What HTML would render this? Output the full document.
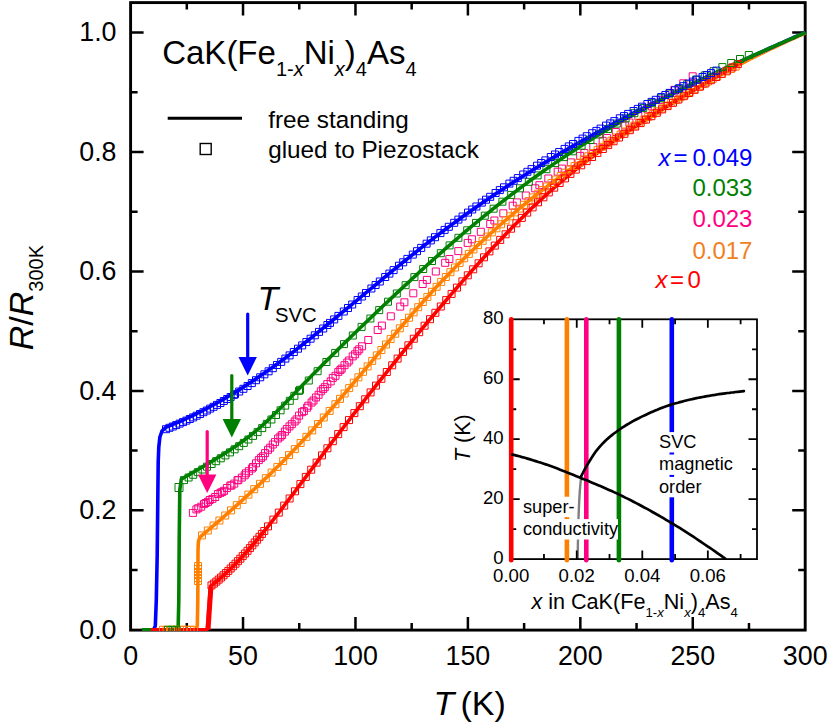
<!DOCTYPE html>
<html><head><meta charset="utf-8"><title>chart</title>
<style>html,body{margin:0;padding:0;background:#fff;}svg{display:block;}text{font-family:"Liberation Sans",sans-serif;}</style></head>
<body>
<svg width="830" height="725" viewBox="0 0 830 725" font-family="'Liberation Sans', sans-serif" shape-rendering="auto">
<rect width="830" height="725" fill="#ffffff"/>
<rect x="130.6" y="2.6" width="674.6" height="627.5" fill="none" stroke="#000" stroke-width="2.9"/>
<path d="M186.82,630.1v-7.0M186.82,2.6v7.0M243.03,630.1v-13.0M243.03,2.6v13.0M299.25,630.1v-7.0M299.25,2.6v7.0M355.47,630.1v-13.0M355.47,2.6v13.0M411.68,630.1v-7.0M411.68,2.6v7.0M467.90,630.1v-13.0M467.90,2.6v13.0M524.12,630.1v-7.0M524.12,2.6v7.0M580.33,630.1v-13.0M580.33,2.6v13.0M636.55,630.1v-7.0M636.55,2.6v7.0M692.77,630.1v-13.0M692.77,2.6v13.0M748.98,630.1v-7.0M748.98,2.6v7.0M130.6,570.07h7.0M805.2,570.07h-7.0M130.6,510.34h13.0M805.2,510.34h-13.0M130.6,450.61h7.0M805.2,450.61h-7.0M130.6,390.88h13.0M805.2,390.88h-13.0M130.6,331.15h7.0M805.2,331.15h-7.0M130.6,271.42h13.0M805.2,271.42h-13.0M130.6,211.69h7.0M805.2,211.69h-7.0M130.6,151.96h13.0M805.2,151.96h-13.0M130.6,92.23h7.0M805.2,92.23h-7.0M130.6,32.50h13.0M805.2,32.50h-13.0" stroke="#000" stroke-width="2.5" fill="none"/>
<clipPath id="pc"><rect x="129.7" y="1.7000000000000002" width="676.4" height="629.3"/></clipPath>
<g clip-path="url(#pc)">
<path d="M165.0,629.7 L196.0,629.7 L197.3,626.0 L197.8,600.0 L198.0,552.0 L198.2,545.0 L198.6,540.6 L199.6,537.9 L201.5,535.8 L201.5,535.8 L203.5,534.1 L205.5,532.4 L207.6,530.7 L209.6,529.0 L211.6,527.2 L213.6,525.5 L215.6,523.8 L217.7,522.0 L219.7,520.3 L221.7,518.5 L223.7,516.8 L225.7,515.0 L227.8,513.2 L229.8,511.4 L231.8,509.7 L233.8,507.9 L235.8,506.1 L237.9,504.2 L239.9,502.4 L241.9,500.6 L243.9,498.7 L245.9,496.9 L248.0,495.0 L250.0,493.2 L252.0,491.3 L254.0,489.4 L256.0,487.5 L258.1,485.6 L260.1,483.7 L262.1,481.8 L264.1,479.8 L266.1,477.9 L268.2,475.9 L270.2,474.0 L272.2,472.0 L274.2,470.0 L276.2,468.0 L278.3,466.0 L280.3,464.0 L282.3,462.0 L284.3,459.9 L286.3,457.9 L288.4,455.8 L290.4,453.7 L292.4,451.6 L294.4,449.5 L296.4,447.4 L298.5,445.3 L300.5,443.1 L302.5,441.0 L304.5,438.8 L306.5,436.6 L308.6,434.4 L310.6,432.2 L312.6,430.0 L314.6,427.8 L316.6,425.5 L318.7,423.3 L320.7,421.0 L322.7,418.7 L324.7,416.4 L326.7,414.1 L328.8,411.8 L330.8,409.5 L332.8,407.2 L334.8,404.9 L336.8,402.5 L338.9,400.2 L340.9,397.8 L342.9,395.5 L344.9,393.1 L346.9,390.8 L349.0,388.4 L351.0,386.0 L353.0,383.6 L355.0,381.2 L357.0,378.9 L359.1,376.5 L361.1,374.1 L363.1,371.7 L365.1,369.3 L367.1,366.9 L369.2,364.5 L371.2,362.1 L373.2,359.7 L375.2,357.3 L377.2,354.9 L379.3,352.5 L381.3,350.1 L383.3,347.7 L385.3,345.3 L387.3,343.0 L389.4,340.6 L391.4,338.2 L393.4,335.8 L395.4,333.5 L397.4,331.1 L399.5,328.7 L401.5,326.4 L403.5,324.0 L405.5,321.7 L407.5,319.4 L409.6,317.0 L411.6,314.7 L413.6,312.4 L415.6,310.1 L417.6,307.8 L419.7,305.5 L421.7,303.3 L423.7,301.0 L425.7,298.7 L427.7,296.5 L429.8,294.3 L431.8,292.0 L433.8,289.8 L435.8,287.6 L437.8,285.5 L439.9,283.3 L441.9,281.1 L443.9,279.0 L445.9,276.9 L447.9,274.8 L450.0,272.7 L452.0,270.6 L454.0,268.5 L456.0,266.5 L458.0,264.5 L460.1,262.4 L462.1,260.4 L464.1,258.4 L466.1,256.5 L468.1,254.5 L470.2,252.5 L472.2,250.6 L474.2,248.7 L476.2,246.8 L478.2,244.9 L480.3,243.0 L482.3,241.1 L484.3,239.2 L486.3,237.4 L488.3,235.5 L490.4,233.7 L492.4,231.9 L494.4,230.1 L496.4,228.3 L498.4,226.5 L500.5,224.7 L502.5,223.0 L504.5,221.2 L506.5,219.5 L508.6,217.7 L510.6,216.0 L512.6,214.3 L514.6,212.6 L516.6,210.9 L518.7,209.2 L520.7,207.5 L522.7,205.9 L524.7,204.2 L526.7,202.6 L528.8,200.9 L530.8,199.3 L532.8,197.7 L534.8,196.1 L536.8,194.5 L538.9,192.9 L540.9,191.3 L542.9,189.7 L544.9,188.1 L546.9,186.6 L549.0,185.0 L551.0,183.5 L553.0,181.9 L555.0,180.4 L557.0,178.9 L559.1,177.4 L561.1,175.9 L563.1,174.4 L565.1,172.9 L567.1,171.4 L569.2,169.9 L571.2,168.5 L573.2,167.0 L575.2,165.5 L577.2,164.1 L579.3,162.6 L581.3,161.2 L583.3,159.8 L585.3,158.4 L587.3,157.0 L589.4,155.5 L591.4,154.1 L593.4,152.7 L595.4,151.4 L597.4,150.0 L599.5,148.6 L601.5,147.2 L603.5,145.9 L605.5,144.5 L607.5,143.1 L609.6,141.8 L611.6,140.4 L613.6,139.1 L615.6,137.8 L617.6,136.4 L619.7,135.1 L621.7,133.8 L623.7,132.5 L625.7,131.2 L627.7,129.9 L629.8,128.6 L631.8,127.3 L633.8,126.0 L635.8,124.7 L637.8,123.4 L639.9,122.1 L641.9,120.8 L643.9,119.6 L645.9,118.3 L647.9,117.0 L650.0,115.8 L652.0,114.5 L654.0,113.3 L656.0,112.0 L658.0,110.8 L660.1,109.5 L662.1,108.3 L664.1,107.1 L666.1,105.9 L668.1,104.6 L670.2,103.4 L672.2,102.2 L674.2,101.0 L676.2,99.8 L678.2,98.6 L680.3,97.4 L682.3,96.2 L684.3,95.1 L686.3,93.9 L688.3,92.7 L690.4,91.5 L692.4,90.4 L694.4,89.2 L696.4,88.1 L698.4,86.9 L700.5,85.8 L702.5,84.6 L704.5,83.5 L706.5,82.4 L708.5,81.2 L710.6,80.1 L712.6,79.0 L714.6,77.9 L716.6,76.8 L718.6,75.7 L720.7,74.6 L722.7,73.5 L724.7,72.4 L726.7,71.3 L728.7,70.2 L730.8,69.2 L732.8,68.1 L734.8,67.0 L736.8,66.0 L738.8,64.9 L740.9,63.9 L742.9,62.8 L744.9,61.8 L746.9,60.8 L748.9,59.7 L751.0,58.7 L753.0,57.7 L755.0,56.7 L757.0,55.7 L759.0,54.7 L761.1,53.7 L763.1,52.7 L765.1,51.7 L767.1,50.7 L769.1,49.7 L771.2,48.7 L773.2,47.8 L775.2,46.8 L777.2,45.9 L779.2,44.9 L781.3,44.0 L783.3,43.0 L785.3,42.1 L787.3,41.1 L789.3,40.2 L791.4,39.3 L793.4,38.4 L795.4,37.5 L797.4,36.6 L799.4,35.7 L801.5,34.8 L803.5,33.9 L805.5,33.0" fill="none" stroke="#ff8000" stroke-width="3.6" stroke-linejoin="round" stroke-linecap="butt"/>
<path d="M142.0,629.7 L153.5,629.7 L155.3,626.0 L156.3,600.0 L157.2,555.0 L158.2,462.0 L158.8,447.0 L159.9,437.0 L162.0,431.0 L165.9,427.2 L165.9,427.2 L168.0,426.4 L170.2,425.5 L172.3,424.7 L174.5,423.8 L176.6,422.9 L178.7,422.0 L180.9,421.1 L183.0,420.1 L185.2,419.1 L187.3,418.2 L189.4,417.2 L191.6,416.1 L193.7,415.1 L195.8,414.1 L198.0,413.0 L200.1,411.9 L202.3,410.8 L204.4,409.7 L206.5,408.6 L208.7,407.5 L210.8,406.3 L213.0,405.1 L215.1,404.0 L217.2,402.8 L219.4,401.6 L221.5,400.3 L223.7,399.1 L225.8,397.8 L227.9,396.6 L230.1,395.3 L232.2,394.0 L234.4,392.7 L236.5,391.4 L238.6,390.1 L240.8,388.7 L242.9,387.4 L245.0,386.0 L247.2,384.6 L249.3,383.2 L251.5,381.8 L253.6,380.4 L255.7,379.0 L257.9,377.5 L260.0,376.1 L262.2,374.6 L264.3,373.1 L266.4,371.6 L268.6,370.1 L270.7,368.6 L272.9,367.1 L275.0,365.5 L277.1,364.0 L279.3,362.4 L281.4,360.8 L283.6,359.2 L285.7,357.6 L287.8,356.0 L290.0,354.4 L292.1,352.7 L294.2,351.1 L296.4,349.4 L298.5,347.7 L300.7,346.1 L302.8,344.4 L304.9,342.7 L307.1,341.0 L309.2,339.3 L311.4,337.6 L313.5,335.9 L315.6,334.2 L317.8,332.4 L319.9,330.7 L322.1,329.0 L324.2,327.2 L326.3,325.5 L328.5,323.7 L330.6,322.0 L332.8,320.2 L334.9,318.5 L337.0,316.7 L339.2,314.9 L341.3,313.2 L343.4,311.4 L345.6,309.6 L347.7,307.9 L349.9,306.1 L352.0,304.3 L354.1,302.5 L356.3,300.8 L358.4,299.0 L360.6,297.2 L362.7,295.4 L364.8,293.7 L367.0,291.9 L369.1,290.1 L371.3,288.3 L373.4,286.6 L375.5,284.8 L377.7,283.0 L379.8,281.3 L382.0,279.5 L384.1,277.7 L386.2,276.0 L388.4,274.2 L390.5,272.5 L392.6,270.7 L394.8,269.0 L396.9,267.2 L399.1,265.5 L401.2,263.7 L403.3,262.0 L405.5,260.3 L407.6,258.6 L409.8,256.9 L411.9,255.2 L414.0,253.5 L416.2,251.8 L418.3,250.1 L420.5,248.4 L422.6,246.7 L424.7,245.0 L426.9,243.4 L429.0,241.7 L431.2,240.1 L433.3,238.5 L435.4,236.8 L437.6,235.2 L439.7,233.6 L441.8,232.0 L444.0,230.4 L446.1,228.8 L448.3,227.2 L450.4,225.6 L452.5,224.1 L454.7,222.5 L456.8,220.9 L459.0,219.4 L461.1,217.8 L463.2,216.3 L465.4,214.8 L467.5,213.3 L469.7,211.8 L471.8,210.2 L473.9,208.7 L476.1,207.2 L478.2,205.8 L480.4,204.3 L482.5,202.8 L484.6,201.3 L486.8,199.9 L488.9,198.4 L491.0,197.0 L493.2,195.5 L495.3,194.1 L497.5,192.7 L499.6,191.3 L501.7,189.8 L503.9,188.4 L506.0,187.0 L508.2,185.6 L510.3,184.2 L512.4,182.9 L514.6,181.5 L516.7,180.1 L518.9,178.7 L521.0,177.4 L523.1,176.0 L525.3,174.7 L527.4,173.3 L529.6,172.0 L531.7,170.7 L533.8,169.3 L536.0,168.0 L538.1,166.7 L540.2,165.4 L542.4,164.1 L544.5,162.8 L546.7,161.5 L548.8,160.2 L550.9,158.9 L553.1,157.7 L555.2,156.4 L557.4,155.1 L559.5,153.9 L561.6,152.6 L563.8,151.4 L565.9,150.1 L568.1,148.9 L570.2,147.6 L572.3,146.4 L574.5,145.2 L576.6,144.0 L578.8,142.7 L580.9,141.5 L583.0,140.3 L585.2,139.1 L587.3,137.9 L589.4,136.7 L591.6,135.5 L593.7,134.4 L595.9,133.2 L598.0,132.0 L600.1,130.8 L602.3,129.7 L604.4,128.5 L606.6,127.3 L608.7,126.2 L610.8,125.0 L613.0,123.9 L615.1,122.7 L617.3,121.6 L619.4,120.5 L621.5,119.3 L623.7,118.2 L625.8,117.1 L628.0,116.0 L630.1,114.9 L632.2,113.8 L634.4,112.7 L636.5,111.5 L638.6,110.4 L640.8,109.4 L642.9,108.3 L645.1,107.2 L647.2,106.1 L649.3,105.0 L651.5,103.9 L653.6,102.8 L655.8,101.8 L657.9,100.7 L660.0,99.6 L662.2,98.6 L664.3,97.5 L666.5,96.5 L668.6,95.4 L670.7,94.4 L672.9,93.3 L675.0,92.3 L677.2,91.2 L679.3,90.2 L681.4,89.1 L683.6,88.1 L685.7,87.1 L687.8,86.0 L690.0,85.0 L692.1,84.0 L694.3,83.0 L696.4,82.0 L698.5,80.9 L700.7,79.9 L702.8,78.9 L705.0,77.9 L707.1,76.9 L709.2,75.9 L711.4,74.9 L713.5,73.9 L715.7,72.9 L717.8,71.9 L719.9,70.9 L722.1,69.9 L724.2,68.9 L726.4,67.9 L728.5,66.9 L730.6,66.0 L732.8,65.0 L734.9,64.0 L737.0,63.0 L739.2,62.0 L741.3,61.1 L743.5,60.1 L745.6,59.1 L747.7,58.1 L749.9,57.2 L752.0,56.2 L754.2,55.2 L756.3,54.3 L758.4,53.3 L760.6,52.3 L762.7,51.4 L764.9,50.4 L767.0,49.5 L769.1,48.5 L771.3,47.5 L773.4,46.6 L775.6,45.6 L777.7,44.7 L779.8,43.7 L782.0,42.8 L784.1,41.8 L786.2,40.9 L788.4,39.9 L790.5,38.9 L792.7,38.0 L794.8,37.0 L796.9,36.1 L799.1,35.1 L801.2,34.2 L803.4,33.2 L805.5,32.3" fill="none" stroke="#0000ff" stroke-width="3.6" stroke-linejoin="round" stroke-linecap="butt"/>
<path d="M142.0,629.7 L176.0,629.7 L178.2,626.0 L178.8,600.0 L179.2,540.0 L179.8,490.0 L181.3,479.2 L181.3,479.2 L183.4,478.0 L185.5,476.8 L187.6,475.6 L189.7,474.4 L191.7,473.2 L193.8,472.0 L195.9,470.8 L198.0,469.5 L200.1,468.3 L202.2,467.1 L204.3,465.9 L206.4,464.6 L208.4,463.4 L210.5,462.1 L212.6,460.9 L214.7,459.6 L216.8,458.3 L218.9,457.0 L221.0,455.7 L223.1,454.4 L225.1,453.1 L227.2,451.7 L229.3,450.4 L231.4,449.0 L233.5,447.6 L235.6,446.2 L237.7,444.7 L239.8,443.3 L241.8,441.8 L243.9,440.3 L246.0,438.8 L248.1,437.2 L250.2,435.6 L252.3,433.9 L254.4,432.3 L256.5,430.5 L258.5,428.8 L260.6,427.0 L262.7,425.1 L264.8,423.2 L266.9,421.3 L269.0,419.3 L271.1,417.3 L273.2,415.3 L275.2,413.2 L277.3,411.1 L279.4,409.0 L281.5,406.9 L283.6,404.7 L285.7,402.6 L287.8,400.4 L289.9,398.2 L291.9,396.1 L294.0,393.9 L296.1,391.7 L298.2,389.6 L300.3,387.4 L302.4,385.3 L304.5,383.1 L306.6,381.0 L308.6,378.9 L310.7,376.7 L312.8,374.6 L314.9,372.5 L317.0,370.4 L319.1,368.3 L321.2,366.2 L323.3,364.1 L325.3,362.0 L327.4,359.9 L329.5,357.9 L331.6,355.8 L333.7,353.7 L335.8,351.7 L337.9,349.6 L340.0,347.5 L342.0,345.5 L344.1,343.4 L346.2,341.4 L348.3,339.4 L350.4,337.3 L352.5,335.3 L354.6,333.3 L356.7,331.3 L358.7,329.2 L360.8,327.2 L362.9,325.2 L365.0,323.2 L367.1,321.2 L369.2,319.2 L371.3,317.2 L373.4,315.2 L375.4,313.2 L377.5,311.2 L379.6,309.3 L381.7,307.3 L383.8,305.3 L385.9,303.3 L388.0,301.4 L390.1,299.4 L392.2,297.4 L394.2,295.5 L396.3,293.5 L398.4,291.6 L400.5,289.6 L402.6,287.7 L404.7,285.7 L406.8,283.8 L408.9,281.9 L410.9,279.9 L413.0,278.0 L415.1,276.1 L417.2,274.2 L419.3,272.2 L421.4,270.3 L423.5,268.4 L425.6,266.5 L427.6,264.7 L429.7,262.8 L431.8,260.9 L433.9,259.0 L436.0,257.2 L438.1,255.3 L440.2,253.4 L442.3,251.6 L444.3,249.7 L446.4,247.9 L448.5,246.1 L450.6,244.3 L452.7,242.4 L454.8,240.6 L456.9,238.8 L459.0,237.0 L461.0,235.3 L463.1,233.5 L465.2,231.7 L467.3,230.0 L469.4,228.2 L471.5,226.5 L473.6,224.7 L475.7,223.0 L477.7,221.3 L479.8,219.6 L481.9,217.9 L484.0,216.2 L486.1,214.5 L488.2,212.8 L490.3,211.1 L492.4,209.4 L494.4,207.8 L496.5,206.1 L498.6,204.5 L500.7,202.9 L502.8,201.2 L504.9,199.6 L507.0,198.0 L509.1,196.4 L511.1,194.8 L513.2,193.2 L515.3,191.7 L517.4,190.1 L519.5,188.5 L521.6,187.0 L523.7,185.4 L525.8,183.9 L527.8,182.3 L529.9,180.8 L532.0,179.3 L534.1,177.8 L536.2,176.3 L538.3,174.8 L540.4,173.3 L542.5,171.8 L544.5,170.4 L546.6,168.9 L548.7,167.4 L550.8,166.0 L552.9,164.6 L555.0,163.1 L557.1,161.7 L559.2,160.3 L561.2,158.9 L563.3,157.5 L565.4,156.1 L567.5,154.7 L569.6,153.3 L571.7,151.9 L573.8,150.6 L575.9,149.2 L577.9,147.9 L580.0,146.5 L582.1,145.2 L584.2,143.9 L586.3,142.5 L588.4,141.2 L590.5,139.9 L592.6,138.6 L594.6,137.3 L596.7,136.0 L598.8,134.8 L600.9,133.5 L603.0,132.2 L605.1,131.0 L607.2,129.7 L609.3,128.5 L611.4,127.2 L613.4,126.0 L615.5,124.8 L617.6,123.6 L619.7,122.4 L621.8,121.2 L623.9,120.0 L626.0,118.8 L628.1,117.6 L630.1,116.4 L632.2,115.3 L634.3,114.1 L636.4,112.9 L638.5,111.8 L640.6,110.7 L642.7,109.5 L644.8,108.4 L646.8,107.3 L648.9,106.1 L651.0,105.0 L653.1,103.9 L655.2,102.8 L657.3,101.7 L659.4,100.6 L661.5,99.5 L663.5,98.4 L665.6,97.3 L667.7,96.3 L669.8,95.2 L671.9,94.1 L674.0,93.1 L676.1,92.0 L678.2,91.0 L680.2,89.9 L682.3,88.9 L684.4,87.8 L686.5,86.8 L688.6,85.8 L690.7,84.7 L692.8,83.7 L694.9,82.7 L696.9,81.7 L699.0,80.7 L701.1,79.7 L703.2,78.7 L705.3,77.7 L707.4,76.7 L709.5,75.7 L711.6,74.7 L713.6,73.7 L715.7,72.7 L717.8,71.7 L719.9,70.8 L722.0,69.8 L724.1,68.8 L726.2,67.9 L728.3,66.9 L730.3,65.9 L732.4,65.0 L734.5,64.0 L736.6,63.1 L738.7,62.1 L740.8,61.2 L742.9,60.2 L745.0,59.3 L747.0,58.3 L749.1,57.4 L751.2,56.5 L753.3,55.5 L755.4,54.6 L757.5,53.6 L759.6,52.7 L761.7,51.8 L763.7,50.9 L765.8,49.9 L767.9,49.0 L770.0,48.1 L772.1,47.2 L774.2,46.2 L776.3,45.3 L778.4,44.4 L780.4,43.5 L782.5,42.6 L784.6,41.6 L786.7,40.7 L788.8,39.8 L790.9,38.9 L793.0,38.0 L795.1,37.1 L797.1,36.2 L799.2,35.2 L801.3,34.3 L803.4,33.4 L805.5,32.5" fill="none" stroke="#008000" stroke-width="3.6" stroke-linejoin="round" stroke-linecap="butt"/>
<path d="M151.0,629.7 L206.5,629.7 L207.4,628.4 L210.5,586.2 L210.5,586.2 L212.3,584.8 L214.0,583.4 L215.8,582.0 L217.6,580.5 L219.4,579.0 L221.1,577.5 L222.9,575.9 L224.7,574.3 L226.5,572.6 L228.2,570.9 L230.0,569.2 L231.8,567.5 L233.6,565.7 L235.3,563.9 L237.1,562.1 L238.9,560.2 L240.7,558.3 L242.4,556.4 L244.2,554.5 L246.0,552.5 L247.8,550.5 L249.5,548.5 L251.3,546.5 L253.1,544.4 L254.9,542.3 L256.6,540.2 L258.4,538.1 L260.2,536.0 L262.0,533.8 L263.7,531.7 L265.5,529.5 L267.3,527.3 L269.1,525.1 L270.8,522.8 L272.6,520.6 L274.4,518.3 L276.1,516.0 L277.9,513.8 L279.7,511.5 L281.5,509.2 L283.2,506.8 L285.0,504.5 L286.8,502.2 L288.6,499.9 L290.3,497.5 L292.1,495.2 L293.9,492.8 L295.7,490.5 L297.4,488.1 L299.2,485.7 L301.0,483.4 L302.8,481.0 L304.5,478.6 L306.3,476.3 L308.1,473.9 L309.9,471.5 L311.6,469.2 L313.4,466.8 L315.2,464.5 L317.0,462.1 L318.7,459.7 L320.5,457.4 L322.3,455.1 L324.1,452.7 L325.8,450.4 L327.6,448.0 L329.4,445.7 L331.1,443.4 L332.9,441.0 L334.7,438.7 L336.5,436.4 L338.2,434.1 L340.0,431.8 L341.8,429.5 L343.6,427.2 L345.3,424.8 L347.1,422.5 L348.9,420.3 L350.7,418.0 L352.4,415.7 L354.2,413.4 L356.0,411.1 L357.8,408.8 L359.5,406.5 L361.3,404.3 L363.1,402.0 L364.9,399.7 L366.6,397.5 L368.4,395.2 L370.2,392.9 L372.0,390.7 L373.7,388.4 L375.5,386.2 L377.3,384.0 L379.1,381.7 L380.8,379.5 L382.6,377.3 L384.4,375.0 L386.2,372.8 L387.9,370.6 L389.7,368.4 L391.5,366.2 L393.2,364.0 L395.0,361.8 L396.8,359.6 L398.6,357.4 L400.3,355.2 L402.1,353.0 L403.9,350.8 L405.7,348.6 L407.4,346.5 L409.2,344.3 L411.0,342.1 L412.8,340.0 L414.5,337.8 L416.3,335.7 L418.1,333.5 L419.9,331.4 L421.6,329.2 L423.4,327.1 L425.2,325.0 L427.0,322.9 L428.7,320.7 L430.5,318.6 L432.3,316.5 L434.1,314.4 L435.8,312.3 L437.6,310.2 L439.4,308.1 L441.2,306.0 L442.9,304.0 L444.7,301.9 L446.5,299.8 L448.2,297.7 L450.0,295.7 L451.8,293.6 L453.6,291.6 L455.3,289.5 L457.1,287.5 L458.9,285.4 L460.7,283.4 L462.4,281.4 L464.2,279.4 L466.0,277.4 L467.8,275.4 L469.5,273.4 L471.3,271.4 L473.1,269.4 L474.9,267.4 L476.6,265.4 L478.4,263.5 L480.2,261.5 L482.0,259.5 L483.7,257.6 L485.5,255.7 L487.3,253.7 L489.1,251.8 L490.8,249.9 L492.6,248.0 L494.4,246.1 L496.2,244.2 L497.9,242.3 L499.7,240.5 L501.5,238.6 L503.3,236.7 L505.0,234.9 L506.8,233.0 L508.6,231.2 L510.3,229.4 L512.1,227.6 L513.9,225.8 L515.7,224.0 L517.4,222.2 L519.2,220.4 L521.0,218.7 L522.8,216.9 L524.5,215.2 L526.3,213.4 L528.1,211.7 L529.9,210.0 L531.6,208.3 L533.4,206.6 L535.2,204.9 L537.0,203.3 L538.7,201.6 L540.5,200.0 L542.3,198.3 L544.1,196.7 L545.8,195.1 L547.6,193.5 L549.4,191.9 L551.2,190.3 L552.9,188.8 L554.7,187.2 L556.5,185.7 L558.3,184.1 L560.0,182.6 L561.8,181.1 L563.6,179.6 L565.3,178.1 L567.1,176.6 L568.9,175.2 L570.7,173.7 L572.4,172.3 L574.2,170.8 L576.0,169.4 L577.8,168.0 L579.5,166.6 L581.3,165.2 L583.1,163.8 L584.9,162.4 L586.6,161.1 L588.4,159.7 L590.2,158.3 L592.0,157.0 L593.7,155.7 L595.5,154.3 L597.3,153.0 L599.1,151.7 L600.8,150.4 L602.6,149.1 L604.4,147.8 L606.2,146.6 L607.9,145.3 L609.7,144.0 L611.5,142.8 L613.3,141.5 L615.0,140.3 L616.8,139.0 L618.6,137.8 L620.4,136.6 L622.1,135.4 L623.9,134.2 L625.7,133.0 L627.4,131.8 L629.2,130.6 L631.0,129.4 L632.8,128.2 L634.5,127.0 L636.3,125.9 L638.1,124.7 L639.9,123.6 L641.6,122.4 L643.4,121.3 L645.2,120.1 L647.0,119.0 L648.7,117.9 L650.5,116.7 L652.3,115.6 L654.1,114.5 L655.8,113.4 L657.6,112.3 L659.4,111.2 L661.2,110.0 L662.9,108.9 L664.7,107.9 L666.5,106.8 L668.3,105.7 L670.0,104.6 L671.8,103.5 L673.6,102.4 L675.4,101.3 L677.1,100.3 L678.9,99.2 L680.7,98.1 L682.4,97.1 L684.2,96.0 L686.0,94.9 L687.8,93.9 L689.5,92.8 L691.3,91.7 L693.1,90.7 L694.9,89.6 L696.6,88.6 L698.4,87.5 L700.2,86.5 L702.0,85.4 L703.7,84.4 L705.5,83.3 L707.3,82.3 L709.1,81.2 L710.8,80.2 L712.6,79.1 L714.4,78.1 L716.2,77.0 L717.9,76.0 L719.7,74.9 L721.5,73.9 L723.3,72.8 L725.0,71.7 L726.8,70.7 L728.6,69.6 L730.4,68.6 L732.1,67.5 L733.9,66.5 L735.7,65.4 L737.5,64.3 L739.2,63.3 L741.0,62.2" fill="none" stroke="#ff0000" stroke-width="3.6" stroke-linejoin="round" stroke-linecap="butt"/>
<path d="M208.0,629.8 L210.9,587" fill="none" stroke="#ff0000" stroke-width="5.0" stroke-linecap="butt"/>
<path d="M189.4,509.4h7.0v7.0h-7.0zM192.9,505.9h7.0v7.0h-7.0zM194.8,504.7h7.0v7.0h-7.0zM197.7,503.2h7.0v7.0h-7.0zM200.5,500.6h7.0v7.0h-7.0zM202.2,499.5h7.0v7.0h-7.0zM204.5,498.3h7.0v7.0h-7.0zM206.2,496.5h7.0v7.0h-7.0zM208.9,495.4h7.0v7.0h-7.0zM211.7,493.5h7.0v7.0h-7.0zM214.4,490.5h7.0v7.0h-7.0zM217.0,489.3h7.0v7.0h-7.0zM218.7,488.4h7.0v7.0h-7.0zM220.6,487.3h7.0v7.0h-7.0zM223.4,484.5h7.0v7.0h-7.0zM226.8,482.0h7.0v7.0h-7.0zM228.0,482.0h7.0v7.0h-7.0zM230.8,480.1h7.0v7.0h-7.0zM234.0,476.8h7.0v7.0h-7.0zM234.9,476.4h7.0v7.0h-7.0zM238.3,474.1h7.0v7.0h-7.0zM241.2,471.8h7.0v7.0h-7.0zM242.5,469.8h7.0v7.0h-7.0zM245.4,467.7h7.0v7.0h-7.0zM248.4,465.0h7.0v7.0h-7.0zM249.5,463.5h7.0v7.0h-7.0zM252.5,459.8h7.0v7.0h-7.0zM255.3,456.6h7.0v7.0h-7.0zM257.6,454.4h7.0v7.0h-7.0zM259.6,452.8h7.0v7.0h-7.0zM261.6,449.6h7.0v7.0h-7.0zM264.5,446.3h7.0v7.0h-7.0zM266.7,444.2h7.0v7.0h-7.0zM269.3,441.0h7.0v7.0h-7.0zM271.5,438.6h7.0v7.0h-7.0zM274.6,435.0h7.0v7.0h-7.0zM276.9,433.1h7.0v7.0h-7.0zM278.6,431.5h7.0v7.0h-7.0zM281.4,428.1h7.0v7.0h-7.0zM283.3,425.6h7.0v7.0h-7.0zM286.0,422.9h7.0v7.0h-7.0zM288.3,420.7h7.0v7.0h-7.0zM291.2,418.0h7.0v7.0h-7.0zM293.1,415.9h7.0v7.0h-7.0zM295.6,412.1h7.0v7.0h-7.0zM298.5,408.7h7.0v7.0h-7.0zM300.4,407.6h7.0v7.0h-7.0zM303.6,404.2h7.0v7.0h-7.0zM304.8,402.2h7.0v7.0h-7.0zM308.1,399.0h7.0v7.0h-7.0zM310.0,397.0h7.0v7.0h-7.0zM312.4,394.0h7.0v7.0h-7.0zM315.1,391.3h7.0v7.0h-7.0zM317.3,387.8h7.0v7.0h-7.0zM319.6,385.6h7.0v7.0h-7.0zM321.3,383.7h7.0v7.0h-7.0zM323.8,380.6h7.0v7.0h-7.0zM327.2,377.9h7.0v7.0h-7.0zM329.3,374.4h7.0v7.0h-7.0zM332.0,372.3h7.0v7.0h-7.0zM334.8,368.4h7.0v7.0h-7.0zM336.8,366.6h7.0v7.0h-7.0zM338.2,365.1h7.0v7.0h-7.0zM341.0,361.7h7.0v7.0h-7.0zM343.8,359.0h7.0v7.0h-7.0zM345.7,357.0h7.0v7.0h-7.0zM349.2,352.9h7.0v7.0h-7.0zM351.6,350.8h7.0v7.0h-7.0zM353.9,347.7h7.0v7.0h-7.0zM355.7,345.8h7.0v7.0h-7.0zM358.6,342.8h7.0v7.0h-7.0zM364.8,336.5h7.0v7.0h-7.0zM374.2,326.5h7.0v7.0h-7.0zM378.4,322.1h7.0v7.0h-7.0zM387.3,312.8h7.0v7.0h-7.0zM396.7,303.1h7.0v7.0h-7.0zM400.9,298.8h7.0v7.0h-7.0zM409.8,289.8h7.0v7.0h-7.0zM419.2,280.5h7.0v7.0h-7.0zM423.4,276.4h7.0v7.0h-7.0zM432.3,268.0h7.0v7.0h-7.0zM441.7,259.3h7.0v7.0h-7.0zM445.9,255.5h7.0v7.0h-7.0zM454.8,247.6h7.0v7.0h-7.0zM464.2,239.4h7.0v7.0h-7.0zM468.4,235.8h7.0v7.0h-7.0zM477.3,228.3h7.0v7.0h-7.0zM486.7,220.5h7.0v7.0h-7.0zM490.9,217.0h7.0v7.0h-7.0zM499.8,209.8h7.0v7.0h-7.0zM509.2,202.2h7.0v7.0h-7.0zM513.4,198.9h7.0v7.0h-7.0zM522.3,192.0h7.0v7.0h-7.0zM531.7,184.8h7.0v7.0h-7.0zM535.9,181.7h7.0v7.0h-7.0zM544.8,175.0h7.0v7.0h-7.0zM554.2,168.2h7.0v7.0h-7.0zM558.4,165.1h7.0v7.0h-7.0zM567.3,158.9h7.0v7.0h-7.0zM576.7,152.4h7.0v7.0h-7.0zM580.9,149.6h7.0v7.0h-7.0zM589.8,143.6h7.0v7.0h-7.0zM599.2,137.3h7.0v7.0h-7.0zM603.4,134.5h7.0v7.0h-7.0zM612.3,128.5h7.0v7.0h-7.0zM621.7,121.9h7.0v7.0h-7.0zM625.9,119.0h7.0v7.0h-7.0zM634.8,112.6h7.0v7.0h-7.0zM644.2,105.9h7.0v7.0h-7.0zM648.4,102.9h7.0v7.0h-7.0zM657.3,96.4h7.0v7.0h-7.0zM666.7,89.5h7.0v7.0h-7.0zM670.9,86.4h7.0v7.0h-7.0zM679.8,79.8h7.0v7.0h-7.0zM689.2,72.8h7.0v7.0h-7.0z" fill="none" stroke="#ff0080" stroke-width="1" stroke-opacity="1.0"/>
<path d="M198.5,531.9h7.0v7.0h-7.0zM204.3,527.0h7.0v7.0h-7.0zM210.1,522.0h7.0v7.0h-7.0zM215.9,517.0h7.0v7.0h-7.0zM221.7,512.0h7.0v7.0h-7.0zM227.5,506.9h7.0v7.0h-7.0zM233.3,501.7h7.0v7.0h-7.0zM239.1,496.4h7.0v7.0h-7.0zM244.9,491.1h7.0v7.0h-7.0zM250.7,485.7h7.0v7.0h-7.0zM256.5,480.3h7.0v7.0h-7.0zM262.3,474.7h7.0v7.0h-7.0zM268.1,469.1h7.0v7.0h-7.0zM273.9,463.4h7.0v7.0h-7.0zM279.7,457.6h7.0v7.0h-7.0zM285.5,451.6h7.0v7.0h-7.0zM291.3,445.6h7.0v7.0h-7.0zM297.1,439.5h7.0v7.0h-7.0zM302.9,433.3h7.0v7.0h-7.0zM308.7,426.9h7.0v7.0h-7.0zM314.5,420.5h7.0v7.0h-7.0zM320.3,414.0h7.0v7.0h-7.0zM326.1,407.4h7.0v7.0h-7.0zM331.9,400.7h7.0v7.0h-7.0zM336.5,395.4h7.0v7.0h-7.0zM341.1,390.0h7.0v7.0h-7.0zM345.7,384.6h7.0v7.0h-7.0zM350.3,379.2h7.0v7.0h-7.0zM354.9,373.8h7.0v7.0h-7.0zM359.5,368.3h7.0v7.0h-7.0zM364.1,362.9h7.0v7.0h-7.0zM368.7,357.4h7.0v7.0h-7.0zM373.3,351.9h7.0v7.0h-7.0zM377.9,346.5h7.0v7.0h-7.0zM382.5,341.0h7.0v7.0h-7.0zM387.1,335.6h7.0v7.0h-7.0zM391.7,330.2h7.0v7.0h-7.0zM396.3,324.8h7.0v7.0h-7.0zM400.9,319.5h7.0v7.0h-7.0zM405.5,314.2h7.0v7.0h-7.0zM410.1,308.9h7.0v7.0h-7.0zM414.7,303.7h7.0v7.0h-7.0zM419.3,298.5h7.0v7.0h-7.0zM423.9,293.4h7.0v7.0h-7.0zM428.5,288.3h7.0v7.0h-7.0zM433.1,283.3h7.0v7.0h-7.0zM437.7,278.4h7.0v7.0h-7.0zM442.3,273.5h7.0v7.0h-7.0zM446.9,268.7h7.0v7.0h-7.0zM451.5,264.0h7.0v7.0h-7.0zM456.1,259.4h7.0v7.0h-7.0zM460.7,254.8h7.0v7.0h-7.0zM465.3,250.4h7.0v7.0h-7.0zM469.9,245.9h7.0v7.0h-7.0zM474.5,241.6h7.0v7.0h-7.0zM479.1,237.3h7.0v7.0h-7.0zM483.7,233.1h7.0v7.0h-7.0zM488.3,228.9h7.0v7.0h-7.0zM492.9,224.8h7.0v7.0h-7.0zM497.5,220.8h7.0v7.0h-7.0zM502.1,216.8h7.0v7.0h-7.0zM506.7,212.8h7.0v7.0h-7.0zM511.3,208.9h7.0v7.0h-7.0zM515.9,205.1h7.0v7.0h-7.0zM520.5,201.3h7.0v7.0h-7.0zM525.1,197.6h7.0v7.0h-7.0zM529.7,193.9h7.0v7.0h-7.0zM534.3,190.2h7.0v7.0h-7.0zM538.9,186.6h7.0v7.0h-7.0zM543.5,183.0h7.0v7.0h-7.0zM548.1,179.5h7.0v7.0h-7.0zM552.7,176.0h7.0v7.0h-7.0zM557.3,172.6h7.0v7.0h-7.0zM561.9,169.2h7.0v7.0h-7.0zM566.5,165.8h7.0v7.0h-7.0zM571.1,162.5h7.0v7.0h-7.0zM575.7,159.2h7.0v7.0h-7.0zM580.3,155.9h7.0v7.0h-7.0zM584.9,152.7h7.0v7.0h-7.0zM589.5,149.5h7.0v7.0h-7.0zM594.1,146.4h7.0v7.0h-7.0zM598.7,143.2h7.0v7.0h-7.0zM603.3,140.1h7.0v7.0h-7.0zM607.9,137.1h7.0v7.0h-7.0zM612.5,134.0h7.0v7.0h-7.0zM617.1,131.0h7.0v7.0h-7.0zM621.7,128.0h7.0v7.0h-7.0zM626.3,125.0h7.0v7.0h-7.0zM630.9,122.1h7.0v7.0h-7.0zM635.5,119.1h7.0v7.0h-7.0zM640.1,116.2h7.0v7.0h-7.0zM644.7,113.4h7.0v7.0h-7.0zM649.3,110.5h7.0v7.0h-7.0zM653.9,107.7h7.0v7.0h-7.0zM658.5,104.9h7.0v7.0h-7.0zM663.1,102.1h7.0v7.0h-7.0zM667.7,99.3h7.0v7.0h-7.0zM672.3,96.6h7.0v7.0h-7.0zM676.9,93.8h7.0v7.0h-7.0zM681.5,91.1h7.0v7.0h-7.0zM686.1,88.5h7.0v7.0h-7.0zM690.7,85.8h7.0v7.0h-7.0zM695.3,83.2h7.0v7.0h-7.0zM699.9,80.6h7.0v7.0h-7.0zM704.5,78.0h7.0v7.0h-7.0zM709.1,75.5h7.0v7.0h-7.0zM713.7,73.0h7.0v7.0h-7.0zM718.3,70.5h7.0v7.0h-7.0zM722.9,68.0h7.0v7.0h-7.0zM727.5,65.5h7.0v7.0h-7.0zM732.1,63.1h7.0v7.0h-7.0z" fill="none" stroke="#ff8000" stroke-width="1" stroke-opacity="1.0"/>
<path d="M208.0,581.9h7.0v7.0h-7.0zM210.4,580.1h7.0v7.0h-7.0zM212.8,578.1h7.0v7.0h-7.0zM215.2,576.1h7.0v7.0h-7.0zM217.6,574.0h7.0v7.0h-7.0zM220.0,571.8h7.0v7.0h-7.0zM222.4,569.6h7.0v7.0h-7.0zM224.8,567.4h7.0v7.0h-7.0zM227.2,565.0h7.0v7.0h-7.0zM229.6,562.7h7.0v7.0h-7.0zM232.0,560.2h7.0v7.0h-7.0zM234.4,557.7h7.0v7.0h-7.0zM236.8,555.2h7.0v7.0h-7.0zM239.2,552.6h7.0v7.0h-7.0zM241.6,550.0h7.0v7.0h-7.0zM244.0,547.3h7.0v7.0h-7.0zM246.4,544.6h7.0v7.0h-7.0zM248.8,541.8h7.0v7.0h-7.0zM251.2,539.0h7.0v7.0h-7.0zM253.6,536.2h7.0v7.0h-7.0zM256.0,533.3h7.0v7.0h-7.0zM258.4,530.4h7.0v7.0h-7.0zM260.8,527.5h7.0v7.0h-7.0zM264.5,522.9h7.0v7.0h-7.0zM269.9,516.1h7.0v7.0h-7.0zM275.3,509.1h7.0v7.0h-7.0zM280.7,502.1h7.0v7.0h-7.0zM286.1,495.0h7.0v7.0h-7.0zM291.5,487.8h7.0v7.0h-7.0zM296.9,480.6h7.0v7.0h-7.0zM302.3,473.4h7.0v7.0h-7.0zM307.7,466.2h7.0v7.0h-7.0zM313.1,459.1h7.0v7.0h-7.0zM318.5,451.9h7.0v7.0h-7.0zM323.9,444.8h7.0v7.0h-7.0zM329.3,437.7h7.0v7.0h-7.0zM334.7,430.6h7.0v7.0h-7.0zM340.1,423.6h7.0v7.0h-7.0zM345.5,416.6h7.0v7.0h-7.0zM350.9,409.6h7.0v7.0h-7.0zM356.3,402.7h7.0v7.0h-7.0zM361.7,395.8h7.0v7.0h-7.0zM367.1,388.9h7.0v7.0h-7.0zM372.5,382.1h7.0v7.0h-7.0zM377.9,375.3h7.0v7.0h-7.0zM383.3,368.5h7.0v7.0h-7.0zM388.7,361.8h7.0v7.0h-7.0zM394.1,355.1h7.0v7.0h-7.0zM399.5,348.4h7.0v7.0h-7.0zM404.9,341.8h7.0v7.0h-7.0zM410.3,335.2h7.0v7.0h-7.0zM415.7,328.7h7.0v7.0h-7.0zM421.1,322.2h7.0v7.0h-7.0zM426.5,315.7h7.0v7.0h-7.0zM431.9,309.3h7.0v7.0h-7.0zM437.3,303.0h7.0v7.0h-7.0zM442.7,296.6h7.0v7.0h-7.0zM448.1,290.4h7.0v7.0h-7.0zM453.5,284.1h7.0v7.0h-7.0zM458.9,277.9h7.0v7.0h-7.0zM464.3,271.8h7.0v7.0h-7.0zM469.7,265.8h7.0v7.0h-7.0zM475.1,259.8h7.0v7.0h-7.0zM480.5,253.8h7.0v7.0h-7.0zM485.9,247.9h7.0v7.0h-7.0zM491.3,242.1h7.0v7.0h-7.0zM496.7,236.4h7.0v7.0h-7.0zM502.1,230.8h7.0v7.0h-7.0zM507.5,225.2h7.0v7.0h-7.0zM512.9,219.8h7.0v7.0h-7.0zM518.3,214.4h7.0v7.0h-7.0zM523.7,209.1h7.0v7.0h-7.0zM529.1,203.9h7.0v7.0h-7.0zM534.5,198.8h7.0v7.0h-7.0zM539.9,193.8h7.0v7.0h-7.0zM545.3,188.9h7.0v7.0h-7.0zM550.7,184.2h7.0v7.0h-7.0zM556.1,179.5h7.0v7.0h-7.0zM561.5,174.9h7.0v7.0h-7.0zM566.9,170.4h7.0v7.0h-7.0zM572.3,166.1h7.0v7.0h-7.0zM577.7,161.8h7.0v7.0h-7.0zM583.1,157.6h7.0v7.0h-7.0zM588.5,153.5h7.0v7.0h-7.0zM593.9,149.4h7.0v7.0h-7.0zM599.3,145.5h7.0v7.0h-7.0zM604.7,141.6h7.0v7.0h-7.0zM610.1,137.8h7.0v7.0h-7.0zM615.5,134.0h7.0v7.0h-7.0zM620.9,130.3h7.0v7.0h-7.0zM626.3,126.7h7.0v7.0h-7.0zM631.7,123.1h7.0v7.0h-7.0zM637.1,119.6h7.0v7.0h-7.0zM642.5,116.1h7.0v7.0h-7.0zM647.9,112.7h7.0v7.0h-7.0zM653.3,109.3h7.0v7.0h-7.0zM658.7,105.9h7.0v7.0h-7.0zM664.1,102.6h7.0v7.0h-7.0zM669.5,99.3h7.0v7.0h-7.0zM674.9,96.0h7.0v7.0h-7.0zM680.3,92.7h7.0v7.0h-7.0zM685.7,89.5h7.0v7.0h-7.0zM691.1,86.3h7.0v7.0h-7.0zM696.5,83.1h7.0v7.0h-7.0zM701.9,79.9h7.0v7.0h-7.0zM707.3,76.7h7.0v7.0h-7.0zM712.7,73.5h7.0v7.0h-7.0zM718.1,70.3h7.0v7.0h-7.0zM723.5,67.1h7.0v7.0h-7.0zM728.9,63.9h7.0v7.0h-7.0zM734.3,60.6h7.0v7.0h-7.0z" fill="none" stroke="#ff0000" stroke-width="1" stroke-opacity="1.0"/>
<path d="M159.5,626.3h7.0v7.0h-7.0zM163.0,626.3h7.0v7.0h-7.0zM167.5,626.3h7.0v7.0h-7.0zM172.0,626.3h7.0v7.0h-7.0zM176.5,626.3h7.0v7.0h-7.0zM180.0,626.3h7.0v7.0h-7.0zM183.5,626.3h7.0v7.0h-7.0zM187.0,626.3h7.0v7.0h-7.0zM190.5,626.3h7.0v7.0h-7.0z" fill="none" stroke="#ff8000" stroke-width="1" stroke-opacity="1.0"/>
<path d="M194.5,562.5h7.0v7.0h-7.0zM194.5,565.5h7.0v7.0h-7.0zM194.5,568.5h7.0v7.0h-7.0zM194.5,571.5h7.0v7.0h-7.0zM194.5,574.5h7.0v7.0h-7.0zM194.5,577.5h7.0v7.0h-7.0z" fill="none" stroke="#ff8000" stroke-width="1" stroke-opacity="1.0"/>
<path d="M164.5,626.3h7.0v7.0h-7.0zM169.0,626.3h7.0v7.0h-7.0zM173.0,626.3h7.0v7.0h-7.0z" fill="none" stroke="#008000" stroke-width="1" stroke-opacity="1.0"/>
<path d="M175.0,483.5h8v8h-8z" fill="none" stroke="#008000" stroke-width="1" stroke-opacity="1.0"/>
<path d="M180.5,476.6h7.0v7.0h-7.0zM185.1,474.0h7.0v7.0h-7.0zM189.7,471.3h7.0v7.0h-7.0zM194.3,468.7h7.0v7.0h-7.0zM198.9,466.0h7.0v7.0h-7.0zM203.5,463.2h7.0v7.0h-7.0zM208.1,460.5h7.0v7.0h-7.0zM212.7,457.7h7.0v7.0h-7.0zM217.3,454.8h7.0v7.0h-7.0zM221.9,451.9h7.0v7.0h-7.0zM226.5,448.9h7.0v7.0h-7.0zM231.1,445.8h7.0v7.0h-7.0zM235.7,442.7h7.0v7.0h-7.0zM240.3,439.4h7.0v7.0h-7.0zM244.9,436.0h7.0v7.0h-7.0zM249.5,432.4h7.0v7.0h-7.0zM254.1,428.6h7.0v7.0h-7.0zM258.7,424.6h7.0v7.0h-7.0zM263.3,420.4h7.0v7.0h-7.0zM267.9,416.0h7.0v7.0h-7.0zM272.5,411.5h7.0v7.0h-7.0zM277.1,406.8h7.0v7.0h-7.0zM281.7,402.1h7.0v7.0h-7.0zM286.3,397.3h7.0v7.0h-7.0zM290.9,392.3h7.0v7.0h-7.0zM295.5,387.4h7.0v7.0h-7.0zM296.5,386.3h7.0v7.0h-7.0zM305.3,377.0h7.0v7.0h-7.0zM314.1,367.7h7.0v7.0h-7.0zM322.9,358.5h7.0v7.0h-7.0zM331.7,349.4h7.0v7.0h-7.0zM340.5,340.6h7.0v7.0h-7.0zM349.3,332.0h7.0v7.0h-7.0zM358.1,323.4h7.0v7.0h-7.0zM366.9,315.0h7.0v7.0h-7.0zM375.7,306.6h7.0v7.0h-7.0zM384.5,298.2h7.0v7.0h-7.0zM393.3,290.0h7.0v7.0h-7.0zM402.1,281.7h7.0v7.0h-7.0zM410.9,273.6h7.0v7.0h-7.0zM419.7,265.5h7.0v7.0h-7.0zM428.5,257.5h7.0v7.0h-7.0zM437.3,249.7h7.0v7.0h-7.0zM446.1,241.9h7.0v7.0h-7.0zM454.9,234.3h7.0v7.0h-7.0zM463.7,226.8h7.0v7.0h-7.0zM472.5,219.4h7.0v7.0h-7.0zM481.3,212.2h7.0v7.0h-7.0zM490.1,205.2h7.0v7.0h-7.0zM498.9,198.2h7.0v7.0h-7.0zM507.7,191.4h7.0v7.0h-7.0zM516.5,184.8h7.0v7.0h-7.0zM525.3,178.3h7.0v7.0h-7.0zM534.1,171.9h7.0v7.0h-7.0zM542.9,165.7h7.0v7.0h-7.0zM551.7,159.6h7.0v7.0h-7.0zM560.5,153.6h7.0v7.0h-7.0zM569.3,147.8h7.0v7.0h-7.0zM578.1,142.1h7.0v7.0h-7.0zM586.9,136.5h7.0v7.0h-7.0zM595.7,131.0h7.0v7.0h-7.0zM604.5,125.5h7.0v7.0h-7.0zM613.3,120.1h7.0v7.0h-7.0zM622.1,114.9h7.0v7.0h-7.0zM630.9,109.7h7.0v7.0h-7.0zM639.7,104.6h7.0v7.0h-7.0zM648.5,99.7h7.0v7.0h-7.0zM657.3,94.8h7.0v7.0h-7.0zM666.1,90.1h7.0v7.0h-7.0zM674.9,85.4h7.0v7.0h-7.0zM683.7,80.8h7.0v7.0h-7.0zM692.5,76.2h7.0v7.0h-7.0zM701.3,71.9h7.0v7.0h-7.0zM710.1,67.7h7.0v7.0h-7.0zM718.9,63.6h7.0v7.0h-7.0zM727.7,59.5h7.0v7.0h-7.0zM736.5,55.5h7.0v7.0h-7.0zM745.3,51.5h7.0v7.0h-7.0z" fill="none" stroke="#008000" stroke-width="1" stroke-opacity="1.0"/>
<path d="M162.5,425.7h7.0v7.0h-7.0zM165.9,424.3h7.0v7.0h-7.0zM169.3,423.0h7.0v7.0h-7.0zM172.7,421.6h7.0v7.0h-7.0zM176.1,420.1h7.0v7.0h-7.0zM179.5,418.6h7.0v7.0h-7.0zM182.9,417.1h7.0v7.0h-7.0zM186.3,415.5h7.0v7.0h-7.0zM189.7,413.9h7.0v7.0h-7.0zM193.1,412.2h7.0v7.0h-7.0zM196.5,410.5h7.0v7.0h-7.0zM199.9,408.7h7.0v7.0h-7.0zM203.3,407.0h7.0v7.0h-7.0zM206.7,405.1h7.0v7.0h-7.0zM210.1,403.3h7.0v7.0h-7.0zM213.5,401.4h7.0v7.0h-7.0zM216.9,399.5h7.0v7.0h-7.0zM220.3,397.5h7.0v7.0h-7.0zM223.7,395.5h7.0v7.0h-7.0zM227.1,393.5h7.0v7.0h-7.0zM230.5,391.3h7.0v7.0h-7.0zM231.5,390.7h7.0v7.0h-7.0zM235.7,388.0h7.0v7.0h-7.0zM239.9,385.3h7.0v7.0h-7.0zM244.1,382.5h7.0v7.0h-7.0zM248.3,379.6h7.0v7.0h-7.0zM252.5,376.7h7.0v7.0h-7.0zM256.7,373.8h7.0v7.0h-7.0zM260.9,370.8h7.0v7.0h-7.0zM265.1,367.8h7.0v7.0h-7.0zM269.3,364.7h7.0v7.0h-7.0zM273.5,361.5h7.0v7.0h-7.0zM277.7,358.4h7.0v7.0h-7.0zM281.9,355.1h7.0v7.0h-7.0zM286.1,351.9h7.0v7.0h-7.0zM290.3,348.5h7.0v7.0h-7.0zM294.5,345.2h7.0v7.0h-7.0zM298.7,341.9h7.0v7.0h-7.0zM302.9,338.5h7.0v7.0h-7.0zM307.1,335.2h7.0v7.0h-7.0zM311.3,331.8h7.0v7.0h-7.0zM315.5,328.4h7.0v7.0h-7.0zM319.7,325.0h7.0v7.0h-7.0zM323.9,321.5h7.0v7.0h-7.0zM326.5,319.4h7.0v7.0h-7.0zM330.7,315.9h7.0v7.0h-7.0zM334.9,312.4h7.0v7.0h-7.0zM340.3,308.0h7.0v7.0h-7.0zM344.5,304.5h7.0v7.0h-7.0zM348.7,301.0h7.0v7.0h-7.0zM354.1,296.5h7.0v7.0h-7.0zM358.3,293.0h7.0v7.0h-7.0zM362.5,289.5h7.0v7.0h-7.0zM367.9,285.0h7.0v7.0h-7.0zM372.1,281.5h7.0v7.0h-7.0zM376.3,278.0h7.0v7.0h-7.0zM381.7,273.5h7.0v7.0h-7.0zM385.9,270.1h7.0v7.0h-7.0zM390.1,266.6h7.0v7.0h-7.0zM395.5,262.2h7.0v7.0h-7.0zM399.7,258.8h7.0v7.0h-7.0zM403.9,255.4h7.0v7.0h-7.0zM409.3,251.1h7.0v7.0h-7.0zM413.5,247.7h7.0v7.0h-7.0zM417.7,244.4h7.0v7.0h-7.0zM423.1,240.2h7.0v7.0h-7.0zM427.3,236.9h7.0v7.0h-7.0zM431.5,233.7h7.0v7.0h-7.0zM436.9,229.6h7.0v7.0h-7.0zM441.1,226.4h7.0v7.0h-7.0zM445.3,223.3h7.0v7.0h-7.0zM450.7,219.3h7.0v7.0h-7.0zM454.9,216.1h7.0v7.0h-7.0zM459.1,213.0h7.0v7.0h-7.0zM464.5,209.1h7.0v7.0h-7.0zM468.7,206.0h7.0v7.0h-7.0zM472.9,203.0h7.0v7.0h-7.0zM478.3,199.1h7.0v7.0h-7.0zM482.5,196.2h7.0v7.0h-7.0zM486.7,193.3h7.0v7.0h-7.0zM492.1,189.5h7.0v7.0h-7.0zM496.3,186.6h7.0v7.0h-7.0zM500.5,183.8h7.0v7.0h-7.0zM505.9,180.1h7.0v7.0h-7.0zM510.1,177.3h7.0v7.0h-7.0zM514.3,174.6h7.0v7.0h-7.0zM519.7,171.0h7.0v7.0h-7.0zM523.9,168.3h7.0v7.0h-7.0zM528.1,165.6h7.0v7.0h-7.0zM533.5,162.2h7.0v7.0h-7.0zM537.7,159.5h7.0v7.0h-7.0zM541.9,156.9h7.0v7.0h-7.0zM547.3,153.5h7.0v7.0h-7.0zM551.5,151.0h7.0v7.0h-7.0zM555.7,148.5h7.0v7.0h-7.0zM561.1,145.4h7.0v7.0h-7.0zM565.3,142.9h7.0v7.0h-7.0zM569.5,140.5h7.0v7.0h-7.0zM574.9,137.4h7.0v7.0h-7.0zM579.1,135.1h7.0v7.0h-7.0zM583.3,132.7h7.0v7.0h-7.0zM588.7,129.7h7.0v7.0h-7.0zM592.9,127.4h7.0v7.0h-7.0zM597.1,125.1h7.0v7.0h-7.0zM602.5,122.1h7.0v7.0h-7.0zM606.7,119.9h7.0v7.0h-7.0zM610.9,117.6h7.0v7.0h-7.0zM616.3,114.8h7.0v7.0h-7.0zM620.5,112.6h7.0v7.0h-7.0zM624.7,110.4h7.0v7.0h-7.0zM630.1,107.5h7.0v7.0h-7.0zM634.3,105.4h7.0v7.0h-7.0zM638.5,103.2h7.0v7.0h-7.0zM643.9,100.5h7.0v7.0h-7.0zM648.1,98.4h7.0v7.0h-7.0zM652.3,96.3h7.0v7.0h-7.0zM657.7,93.6h7.0v7.0h-7.0zM661.9,91.5h7.0v7.0h-7.0zM666.1,89.4h7.0v7.0h-7.0zM671.5,86.8h7.0v7.0h-7.0zM675.7,84.7h7.0v7.0h-7.0zM679.9,82.7h7.0v7.0h-7.0zM685.3,80.1h7.0v7.0h-7.0zM689.5,78.1h7.0v7.0h-7.0zM693.7,76.1h7.0v7.0h-7.0zM699.1,73.5h7.0v7.0h-7.0zM703.3,71.5h7.0v7.0h-7.0zM707.5,69.6h7.0v7.0h-7.0zM712.9,67.1h7.0v7.0h-7.0z" fill="none" stroke="#0000ff" stroke-width="1" stroke-opacity="1.0"/>
</g>
<path d="M247.7,314 L247.7,358.0" stroke="#0000ff" stroke-width="3.2" fill="none" stroke-linecap="round"/>
<path d="M238.5,357.0 L256.9,357.0 L247.7,375.5 Z" fill="#0000ff"/>
<path d="M231.8,375.5 L231.8,419.9" stroke="#008000" stroke-width="3.2" fill="none" stroke-linecap="round"/>
<path d="M222.60000000000002,418.9 L241.0,418.9 L231.8,437.4 Z" fill="#008000"/>
<path d="M207.2,431.5 L207.2,475.4" stroke="#ff0080" stroke-width="3.2" fill="none" stroke-linecap="round"/>
<path d="M198.0,474.4 L216.39999999999998,474.4 L207.2,492.9 Z" fill="#ff0080"/>
<text x="130.6" y="664.8" font-size="26.8" text-anchor="middle">0</text>
<text x="243.0" y="664.8" font-size="26.8" text-anchor="middle">50</text>
<text x="355.5" y="664.8" font-size="26.8" text-anchor="middle">100</text>
<text x="467.9" y="664.8" font-size="26.8" text-anchor="middle">150</text>
<text x="580.3" y="664.8" font-size="26.8" text-anchor="middle">200</text>
<text x="692.8" y="664.8" font-size="26.8" text-anchor="middle">250</text>
<text x="805.2" y="664.8" font-size="26.8" text-anchor="middle">300</text>
<text x="116.5" y="638.6" font-size="26.8" text-anchor="end">0.0</text>
<text x="116.5" y="519.1" font-size="26.8" text-anchor="end">0.2</text>
<text x="116.5" y="399.7" font-size="26.8" text-anchor="end">0.4</text>
<text x="116.5" y="280.2" font-size="26.8" text-anchor="end">0.6</text>
<text x="116.5" y="160.8" font-size="26.8" text-anchor="end">0.8</text>
<text x="116.5" y="41.3" font-size="26.8" text-anchor="end">1.0</text>
<text x="433.6" y="715" font-size="34"><tspan font-style="italic">T</tspan><tspan dx="6">(K)</tspan></text>
<text transform="translate(33.0,350.3) rotate(-90)" font-size="34"><tspan font-style="italic">R</tspan>/<tspan font-style="italic">R</tspan><tspan font-size="20" dy="10.0">300K</tspan></text>
<text x="162.2" y="64.3" font-size="33">CaK(Fe<tspan font-size="20" dy="11.9">1-<tspan font-style="italic">x</tspan></tspan><tspan dy="-11.9">Ni</tspan><tspan font-size="20" dy="11.9" font-style="italic">x</tspan><tspan dy="-11.9">)</tspan><tspan font-size="20" dy="11.9">4</tspan><tspan dy="-11.9">As</tspan><tspan font-size="20" dy="11.9">4</tspan></text>
<path d="M167.7,118.3H242" stroke="#000" stroke-width="3"/>
<rect x="200.2" y="143.5" width="11" height="11" fill="none" stroke="#000" stroke-width="1.4"/>
<text x="268.2" y="127.5" font-size="24.3">free standing</text>
<text x="268.2" y="158.3" font-size="24.3">glued to Piezostack</text>
<text x="658.4" y="165.5" font-size="24" fill="#0000ff" font-style="italic">x</text><text x="673.4" y="165.5" font-size="24" fill="#0000ff">=</text><text x="692.4" y="165.5" font-size="24" fill="#0000ff">0.049</text>
<text x="692.4" y="195.9" font-size="24" fill="#008000">0.033</text>
<text x="692.4" y="227.1" font-size="24" fill="#ff0080">0.023</text>
<text x="692.4" y="258.8" font-size="24" fill="#f08020">0.017</text>
<text x="655.4" y="287.6" font-size="24" fill="#ff0000" font-style="italic">x</text><text x="670.0" y="287.6" font-size="24" fill="#ff0000">=</text><text x="687.6" y="287.6" font-size="24" fill="#ff0000">0</text>
<text x="257.6" y="309.6" font-size="34" font-style="italic">T</text>
<text x="275.0" y="321.8" font-size="20.3">SVC</text>
<rect x="511.2" y="319.3" width="245.8" height="239.8" fill="#fff" stroke="none"/>
<path d="M577.7,559.1 C578.1,523.1 578.7,493.2 581.3,476.7" fill="none" stroke="#808080" stroke-width="2.4"/>
<rect x="511.2" y="319.3" width="245.8" height="239.8" fill="none" stroke="#000" stroke-width="1.8"/>
<path d="M543.97,559.1v-5M543.97,319.3v5M576.75,559.1v-8.5M576.75,319.3v8.5M609.52,559.1v-5M609.52,319.3v5M642.29,559.1v-8.5M642.29,319.3v8.5M675.07,559.1v-5M675.07,319.3v5M707.84,559.1v-8.5M707.84,319.3v8.5M740.61,559.1v-5M740.61,319.3v5M511.2,529.12h5M757.0,529.12h-5M511.2,499.15h8.5M757.0,499.15h-8.5M511.2,469.18h5M757.0,469.18h-5M511.2,439.20h8.5M757.0,439.20h-8.5M511.2,409.23h5M757.0,409.23h-5M511.2,379.25h8.5M757.0,379.25h-8.5M511.2,349.28h5M757.0,349.28h-5" stroke="#000" stroke-width="1.8" fill="none"/>
<path d="M566.9,319.3V560.3000000000001" stroke="#ff8000" stroke-width="4.6" stroke-linecap="round"/>
<path d="M586.3,319.3V560.3000000000001" stroke="#ff0080" stroke-width="4.6" stroke-linecap="round"/>
<path d="M618.9,319.3V560.3000000000001" stroke="#008000" stroke-width="4.6" stroke-linecap="round"/>
<path d="M671.8,319.3V560.3000000000001" stroke="#0000ff" stroke-width="4.6" stroke-linecap="round"/>
<path d="M511.2,319.3V560.3000000000001" stroke="#ff0000" stroke-width="4.6" stroke-linecap="round"/>
<path d="M581.0,476.7 L583.1,472.5 L585.1,468.6 L587.2,464.9 L589.3,461.5 L591.3,458.2 L593.4,455.0 L595.4,452.0 L597.5,449.3 L599.6,446.8 L601.6,444.6 L603.7,442.5 L605.7,440.5 L607.8,438.6 L609.9,436.8 L611.9,435.1 L614.0,433.5 L616.1,432.0 L618.1,430.5 L620.2,429.0 L622.2,427.6 L624.3,426.3 L626.4,425.0 L628.4,423.8 L630.5,422.6 L632.6,421.4 L634.6,420.3 L636.7,419.2 L638.7,418.2 L640.8,417.1 L642.9,416.1 L644.9,415.2 L647.0,414.2 L649.0,413.3 L651.1,412.3 L653.2,411.4 L655.2,410.5 L657.3,409.7 L659.4,408.8 L661.4,408.0 L663.5,407.2 L665.5,406.5 L667.6,405.8 L669.7,405.1 L671.7,404.4 L673.8,403.8 L675.9,403.2 L677.9,402.7 L680.0,402.1 L682.0,401.6 L684.1,401.0 L686.2,400.5 L688.2,400.0 L690.3,399.5 L692.3,399.1 L694.4,398.6 L696.5,398.2 L698.5,397.8 L700.6,397.4 L702.7,397.0 L704.7,396.6 L706.8,396.2 L708.8,395.9 L710.9,395.5 L713.0,395.2 L715.0,394.9 L717.1,394.5 L719.1,394.2 L721.2,393.9 L723.3,393.6 L725.3,393.3 L727.4,393.0 L729.5,392.8 L731.5,392.5 L733.6,392.3 L735.6,392.0 L737.7,391.8 L739.8,391.6 L741.8,391.4 L743.9,391.2" fill="none" stroke="#000" stroke-width="2.7" stroke-linecap="round"/>
<path d="M511.2,454.2 L513.9,454.9 L516.6,455.6 L519.4,456.3 L522.1,457.1 L524.8,457.8 L527.5,458.6 L530.2,459.4 L532.9,460.2 L535.7,461.1 L538.4,462.0 L541.1,462.8 L543.8,463.7 L546.5,464.6 L549.2,465.6 L552.0,466.6 L554.7,467.6 L557.4,468.6 L560.1,469.7 L562.8,470.8 L565.5,471.8 L568.3,472.9 L571.0,474.0 L573.7,475.1 L576.4,476.2 L579.1,477.3 L581.8,478.4 L584.6,479.5 L587.3,480.6 L590.0,481.8 L592.7,482.9 L595.4,484.0 L598.2,485.2 L600.9,486.3 L603.6,487.5 L606.3,488.7 L609.0,489.9 L611.7,491.1 L614.5,492.4 L617.2,493.6 L619.9,494.9 L622.6,496.2 L625.3,497.6 L628.0,498.9 L630.8,500.3 L633.5,501.7 L636.2,503.1 L638.9,504.5 L641.6,506.0 L644.3,507.5 L647.1,508.9 L649.8,510.4 L652.5,512.0 L655.2,513.5 L657.9,515.0 L660.7,516.6 L663.4,518.2 L666.1,519.8 L668.8,521.4 L671.5,523.0 L674.2,524.6 L677.0,526.3 L679.7,527.9 L682.4,529.7 L685.1,531.4 L687.8,533.2 L690.5,534.9 L693.3,536.7 L696.0,538.5 L698.7,540.3 L701.4,542.2 L704.1,544.0 L706.8,545.8 L709.6,547.7 L712.3,549.5 L715.0,551.4 L717.7,553.3 L720.4,555.2 L723.1,557.2 L725.9,559.1" fill="none" stroke="#000" stroke-width="2.7"/>
<rect x="522" y="496.7" width="51.5" height="20.4" fill="#fff"/>
<text x="523" y="512.5" font-size="18.2">super-</text>
<rect x="522" y="519.1" width="96" height="20.4" fill="#fff"/>
<text x="523" y="534.9" font-size="18.2">conductivity</text>
<rect x="658" y="432.1" width="34" height="20.4" fill="#fff"/>
<text x="659" y="447.9" font-size="18.2">SVC</text>
<rect x="658" y="454.5" width="74" height="20.4" fill="#fff"/>
<text x="659" y="470.3" font-size="18.2">magnetic</text>
<rect x="658" y="476.9" width="46" height="20.4" fill="#fff"/>
<text x="659" y="492.7" font-size="18.2">order</text>
<text x="511.2" y="581.6" font-size="18.6" text-anchor="middle">0.00</text>
<text x="576.7" y="581.6" font-size="18.6" text-anchor="middle">0.02</text>
<text x="642.3" y="581.6" font-size="18.6" text-anchor="middle">0.04</text>
<text x="707.8" y="581.6" font-size="18.6" text-anchor="middle">0.06</text>
<text x="503.6" y="564.0" font-size="18.6" text-anchor="end">0</text>
<text x="503.6" y="504.1" font-size="18.6" text-anchor="end">20</text>
<text x="503.6" y="444.1" font-size="18.6" text-anchor="end">40</text>
<text x="503.6" y="384.1" font-size="18.6" text-anchor="end">60</text>
<text x="503.6" y="324.2" font-size="18.6" text-anchor="end">80</text>
<text x="531.4" y="609.3" font-size="21.6"><tspan font-style="italic">x</tspan> in CaK(Fe<tspan font-size="13.2" dy="7.8">1-<tspan font-style="italic">x</tspan></tspan><tspan dy="-7.8">Ni</tspan><tspan font-size="13.2" dy="7.8" font-style="italic">x</tspan><tspan dy="-7.8">)</tspan><tspan font-size="13.2" dy="7.8">4</tspan><tspan dy="-7.8">As</tspan><tspan font-size="13.2" dy="7.8">4</tspan></text>
<text transform="translate(469.7,462) rotate(-90)" font-size="21.5"><tspan font-style="italic">T</tspan> (K)</text>
</svg>
</body></html>
